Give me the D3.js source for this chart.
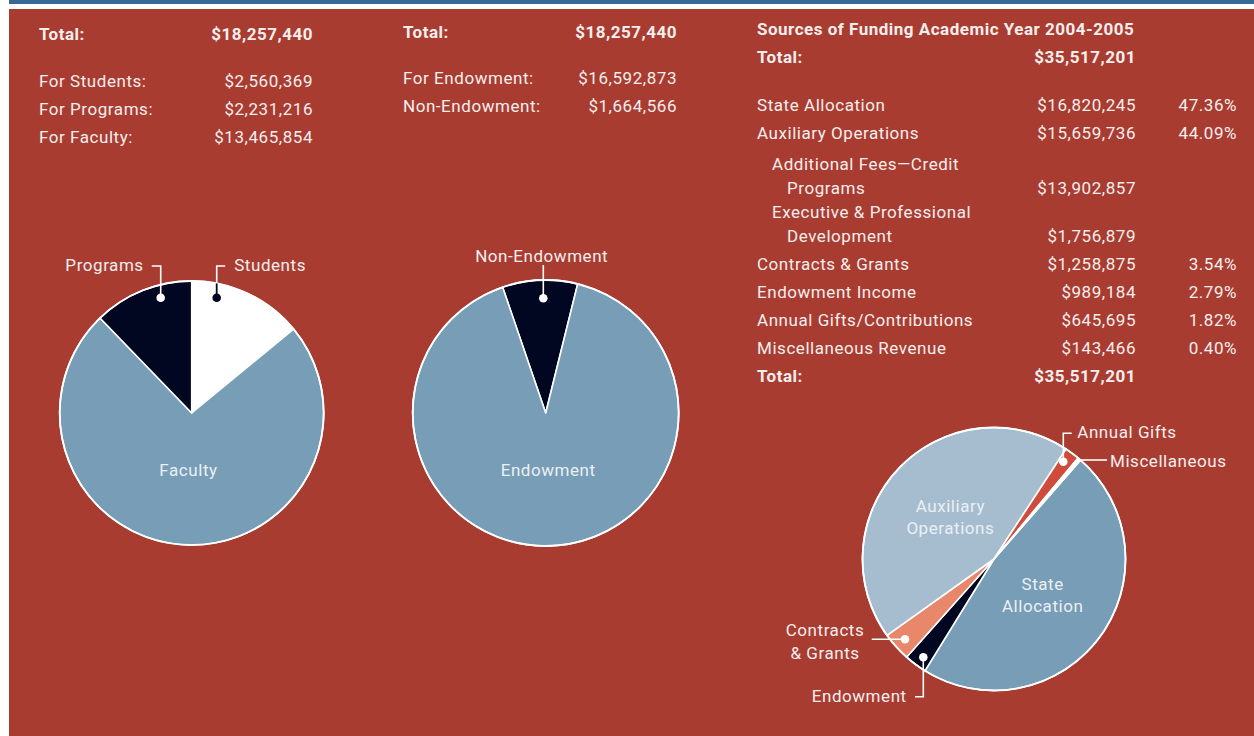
<!DOCTYPE html>
<html>
<head>
<meta charset="utf-8">
<script src="https://cdn.jsdelivr.net/npm/d3@7"></script>
<style>
  body { margin: 0; background: #fff; }
  svg { display: block; font-family: Roboto, "Noto Sans", sans-serif; }
  .txt { fill: #f6eeed; font-size: 17px; letter-spacing: 0.55px; }
  .bold { font-weight: 700; letter-spacing: 0.5px; }
  .inlabel { fill: #eaf0f4; font-size: 17px; letter-spacing: 0.55px; }
</style>
</head>
<body>
<div id="chart"></div>
<script>
// Allocation of endowment funds (left table + pie)
const useLabels = ["For Students:", "For Programs:", "For Faculty:"];
const useValues = [2560369, 2231216, 13465854];
const useTotal = 18257440;

// Endowment / non-endowment (middle table + pie)
const endowLabels = ["For Endowment:", "Non-Endowment:"];
const endowValues = [16592873, 1664566];
const endowTotal = 18257440;

// Sources of funding (right table + pie)
const sourceNames = ["State Allocation", "Auxiliary Operations", "Contracts & Grants",
    "Endowment Income", "Annual Gifts/Contributions", "Miscellaneous Revenue"];
const sourceValues = [16820245, 15659736, 1258875, 989184, 645695, 143466];
const sourcePcts = ["47.36%", "44.09%", "3.54%", "2.79%", "1.82%", "0.40%"];
const auxSubNames = [["Additional Fees\u2014Credit", "Programs"], ["Executive & Professional", "Development"]];
const auxSubValues = [13902857, 1756879];
const sourceTotal = 35517201;

const fmt = d3.format("$,");
const deg = Math.PI / 180;

const W = 1254, H = 736;
const svg = d3.select("#chart").append("svg")
    .attr("width", W)
    .attr("height", H);

// page background: blue rule on top, red panel
svg.append("rect").attr("x", 9).attr("y", 0).attr("width", W - 9).attr("height", 4).attr("fill", "#386894");
svg.append("rect").attr("x", 9).attr("y", 9).attr("width", W - 9).attr("height", H - 9).attr("fill", "#a83c31");

const colors = {
    white: "#ffffff",
    navy: "#010720",
    steel: "#789db6",
    light: "#a6bdcf",
    salmon: "#e8876a",
    red: "#cf4b3b"
};

// ---------- tables ----------
function row(label, value, x, xr, y, bold) {
    svg.append("text").attr("class", "txt" + (bold ? " bold" : ""))
        .attr("x", x).attr("y", y).text(label);
    if (value !== null)
        svg.append("text").attr("class", "txt" + (bold ? " bold" : ""))
            .attr("x", xr).attr("y", y).attr("text-anchor", "end").text(value);
}

// left
row("Total:", fmt(useTotal), 39, 313, 40, true);
useLabels.forEach((l, i) => row(l, fmt(useValues[i]), 39, 313, 87 + i * 28));

// middle
row("Total:", fmt(endowTotal), 403, 677, 38, true);
endowLabels.forEach((l, i) => row(l, fmt(endowValues[i]), 403, 677, 84 + i * 28));

// right
row("Sources of Funding Academic Year 2004-2005", null, 757, 0, 35, true);
row("Total:", fmt(sourceTotal), 757, 1136, 63, true);
const pctX = 1237;
function srcRow(i, y) {
    row(sourceNames[i], fmt(sourceValues[i]), 757, 1136, y);
    svg.append("text").attr("class", "txt").attr("x", pctX).attr("y", y)
        .attr("text-anchor", "end").text(sourcePcts[i]);
}
srcRow(0, 111);
srcRow(1, 139);
auxSubNames.forEach((n, i) => {
    const y0 = 170 + i * 48;
    row(n[0], null, 772, 0, y0);
    row(n[1], fmt(auxSubValues[i]), 787, 1136, y0 + 24);
});
[2, 3, 4, 5].forEach((k, j) => srcRow(k, 270 + j * 28));
row("Total:", fmt(sourceTotal), 757, 1136, 382, true);

// ---------- pies ----------
function drawPie(cx, cy, r, slices, start, labelK) {
    const g = svg.append("g").attr("transform", `translate(${cx},${cy})`);
    const pie = d3.pie().sort(null).value(d => d.value)
        .startAngle(start).endAngle(start + 2 * Math.PI);
    const arc = d3.arc().innerRadius(0).outerRadius(r);
    const labelArc = d3.arc().innerRadius(r * labelK).outerRadius(r * labelK);
    const arcs = pie(slices);
    g.selectAll("path").data(arcs).join("path")
        .attr("d", arc)
        .attr("fill", d => d.data.color)
        .attr("stroke", "#fff")
        .attr("stroke-width", 1.6)
        .attr("stroke-linejoin", "round");
    g.append("circle").attr("r", r).attr("fill", "none").attr("stroke", "#fff").attr("stroke-width", 1.8);
    arcs.filter(d => d.data.inside).forEach(d => {
        const [x, y] = labelArc.centroid(d);
        const lines = d.data.inside;
        const t = g.append("text").attr("class", "inlabel").attr("text-anchor", "middle");
        lines.forEach((s, i) => t.append("tspan").attr("x", x)
            .attr("y", y + 6 + (i - (lines.length - 1) / 2) * 21.5).text(s));
    });
    return g;
}

// callout: polyline from dot outward, plus text
function callout(g, c) {
    g.append("polyline")
        .attr("points", c.pts.map(p => p.join(",")).join(" "))
        .attr("fill", "none").attr("stroke", "#fff").attr("stroke-width", 1.6);
    if (c.inner)
        g.append("line").attr("x1", c.inner[0][0]).attr("y1", c.inner[0][1])
            .attr("x2", c.inner[1][0]).attr("y2", c.inner[1][1])
            .attr("stroke", c.dot).attr("stroke-width", 1.8);
    if (c.dot)
        g.append("circle").attr("cx", c.pts[0][0]).attr("cy", c.pts[0][1]).attr("r", 4.3).attr("fill", c.dot);
    const t = g.append("text").attr("class", "txt").attr("text-anchor", c.anchor);
    c.text.forEach((s, i) => t.append("tspan").attr("x", c.tx).attr("y", c.ty + i * 22.5).text(s));
}

// pie 1: students / faculty / programs
const p1 = drawPie(191.7, 413, 132, [
    { value: useValues[0], color: colors.white },
    { value: useValues[2], color: colors.steel, inside: ["Faculty"] },
    { value: useValues[1], color: colors.navy }
], 0, 0.43);
callout(p1, { pts: [[-31, -115.3], [-31, -147], [-40, -147]], dot: "#fff",
    text: ["Programs"], tx: -48, ty: -142.5, anchor: "end" });
callout(p1, { pts: [[25, -115.3], [25, -147], [33.5, -147]], dot: colors.navy,
    inner: [[25, -115.3], [25, -Math.sqrt(132 * 132 - 25 * 25)]],
    text: ["Students"], tx: 42.5, ty: -142.5, anchor: "start" });

// pie 2: non-endowment / endowment
const p2 = drawPie(545.7, 413, 133, [
    { value: endowValues[1], color: colors.navy },
    { value: endowValues[0], color: colors.steel, inside: ["Endowment"] }
], -18.9 * deg, 0.43);
callout(p2, { pts: [[-2.4, -114.7], [-2.4, -148]], dot: "#fff",
    text: ["Non-Endowment"], tx: -4, ty: -151.5, anchor: "middle" });

// pie 3: sources of funding
const p3 = drawPie(994, 559, 131.5, [
    { value: sourceValues[0], color: colors.steel, inside: ["State", "Allocation"] },
    { value: sourceValues[3], color: colors.navy },
    { value: sourceValues[2], color: colors.salmon },
    { value: sourceValues[1], color: colors.light, inside: ["Auxiliary", "Operations"] },
    { value: sourceValues[4], color: colors.red },
    { value: sourceValues[5], color: colors.white }
], 41.2 * deg, 0.46);
callout(p3, { pts: [[69.3, -97.3], [69.3, -125.7], [77.7, -125.7]], dot: "#fff",
    text: ["Annual Gifts"], tx: 83.3, ty: -121.5, anchor: "start" });
callout(p3, { pts: [[82.7, -99], [113, -99]], dot: null,
    text: ["Miscellaneous"], tx: 116, ty: -92.3, anchor: "start" });
callout(p3, { pts: [[-89, 80.3], [-122.3, 80.3]], dot: "#fff",
    text: ["Contracts", "& Grants"], tx: -169, ty: 77, anchor: "middle" });
callout(p3, { pts: [[-70.7, 98.3], [-70.7, 137.7], [-79, 137.7]], dot: "#fff",
    text: ["Endowment"], tx: -87.3, ty: 142.7, anchor: "end" });
</script>
</body>
</html>
